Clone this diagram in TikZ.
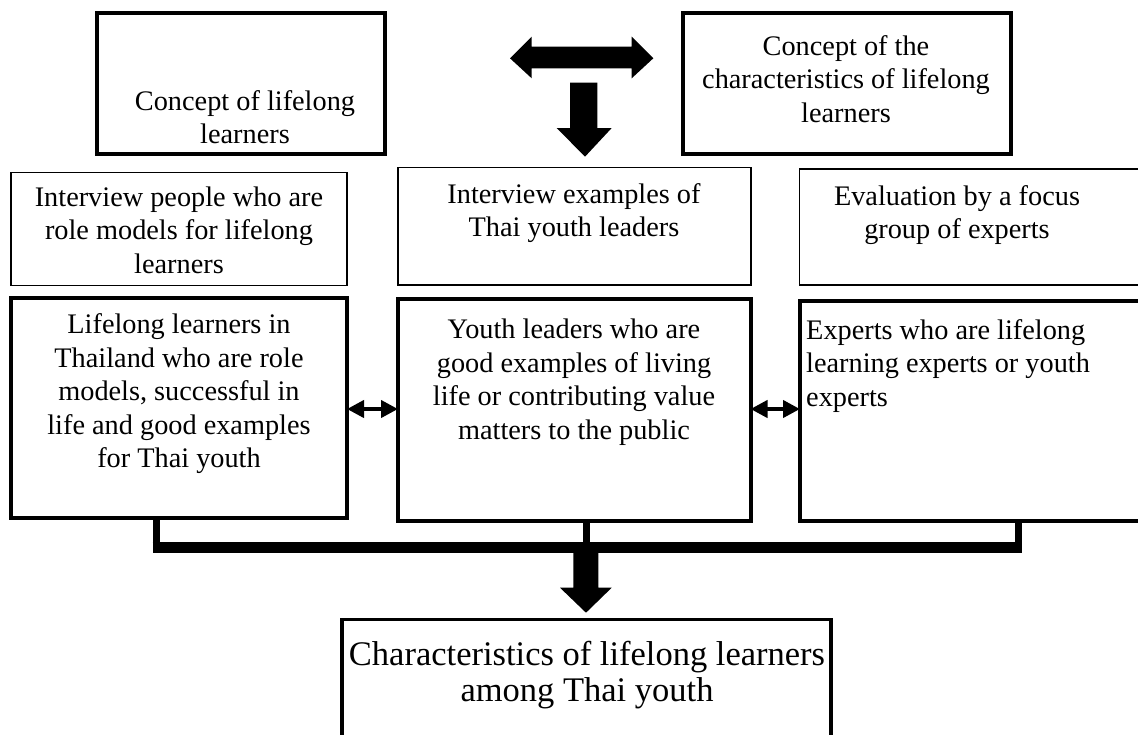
\documentclass[tikz,border=0pt]{standalone}
\usepackage{fontspec}
\setmainfont{Liberation Serif}
\usetikzlibrary{arrows.meta}
\begin{document}
\begin{tikzpicture}[x=1pt,y=-1pt,
  heavybox/.style={draw, line width=4pt, inner sep=0pt, outer sep=0pt, anchor=north west},
  lightbox/.style={draw, line width=1.4pt, inner sep=0pt, outer sep=0pt, anchor=north west},
  txt/.style={font=\fontsize{28.3}{33.5}\selectfont, align=center, inner sep=0pt},
  bigtxt/.style={font=\fontsize{34.5}{36}\selectfont, align=center, inner sep=0pt},
  joinline/.style={line width=7pt},
  joinbar/.style={line width=11pt},
  fatarrow/.style={fill=black},
  smallarrow/.style={line width=4pt, {Triangle[length=17pt,width=17pt]}-{Triangle[length=17pt,width=17pt]}}
]
\useasboundingbox (0,0) rectangle (1138,734);
\clip (0,0) rectangle (1138,734);
\fill[white] (0,0) rectangle (1138,734);

% top boxes
\node[heavybox, minimum width=288pt, minimum height=141pt] (TL) at (97,12.5) {};
\node[heavybox, minimum width=328pt, minimum height=141pt] (TR) at (682.5,12.5) {};
\node[txt] (tTL) at (245,117) {Concept of lifelong\\learners};
\node[txt] (tTR) at (846,79) {Concept of the\\characteristics of lifelong\\learners};

% top arrows
\fill[fatarrow] (510,58.3) -- (531.7,36.7) -- (531.7,46.7) -- (631.7,46.7) -- (631.7,36.7)
  -- (653.3,58.3) -- (631.7,78.3) -- (631.7,68.3) -- (531.7,68.3) -- (531.7,78.3) -- cycle;
\fill[fatarrow] (570,82.7) -- (597.3,82.7) -- (597.3,128) -- (611.7,128) -- (585,156.7)
  -- (556.7,128) -- (570,128) -- cycle;

% second row (thin boxes)
\node[lightbox, minimum width=336pt, minimum height=112.5pt] (L2) at (11,172.7) {};
\node[lightbox, minimum width=353pt, minimum height=117.5pt] (M2) at (398,167.5) {};
\node[lightbox, minimum width=400pt, minimum height=116pt] (R2) at (799.5,169) {};
\node[txt] (tL2) at (179,230) {Interview people who are\\role models for lifelong\\learners};
\node[txt] (tM2) at (574,213) {Interview examples of\\Thai youth leaders};
\node[txt] (tR2) at (957,215) {Evaluation by a focus\\group of experts};

% third row (heavy boxes)
\node[heavybox, minimum width=336pt, minimum height=220.5pt] (L3) at (11,297.5) {};
\node[heavybox, minimum width=352.5pt, minimum height=222pt] (M3) at (398,299) {};
\node[heavybox, minimum width=400pt, minimum height=220.5pt] (R3) at (800,300.5) {};
\node[txt] (tL3) at (179,394) {Lifelong learners in\\Thailand who are role\\models, successful in\\life and good examples\\for Thai youth};
\node[txt] (tM3) at (574,382) {Youth leaders who are\\good examples of living\\life or contributing value\\matters to the public};
\node[txt, align=left, anchor=west] (tR3) at (806,366) {Experts who are lifelong\\learning experts or youth\\experts};

% small double arrows
\coordinate (sa) at (0,409);
\draw[smallarrow] (L3.east |- sa) -- (M3.west |- sa);
\draw[smallarrow] (M3.east |- sa) -- (R3.west |- sa);

% joining connector
\coordinate (jL) at (156,553);
\coordinate (jM) at (586.5,547.5);
\coordinate (jR) at (1018.5,553);
\coordinate (barL) at (152.5,547.5);
\coordinate (barR) at (1022,547.5);
\draw[joinline] (L3.south -| jL) -- (jL);
\draw[joinline] (M3.south -| jM) -- (jM);
\draw[joinline] (R3.south -| jR) -- (jR);
\draw[joinbar] (barL) -- (barR);

% final box
\node[heavybox, line width=3.5pt, minimum width=489pt, minimum height=200pt] (B) at (342,619.5) {};
\node[bigtxt] (tB) at (587,675) {Characteristics of lifelong learners\\among Thai youth};

% bottom arrow
\fill[fatarrow] (573.3,553) -- (598.3,553) -- (598.3,587.7) -- (611.7,587.7) -- (586,612.7)
  -- (560,587.7) -- (573.3,587.7) -- cycle;
\end{tikzpicture}
\end{document}
